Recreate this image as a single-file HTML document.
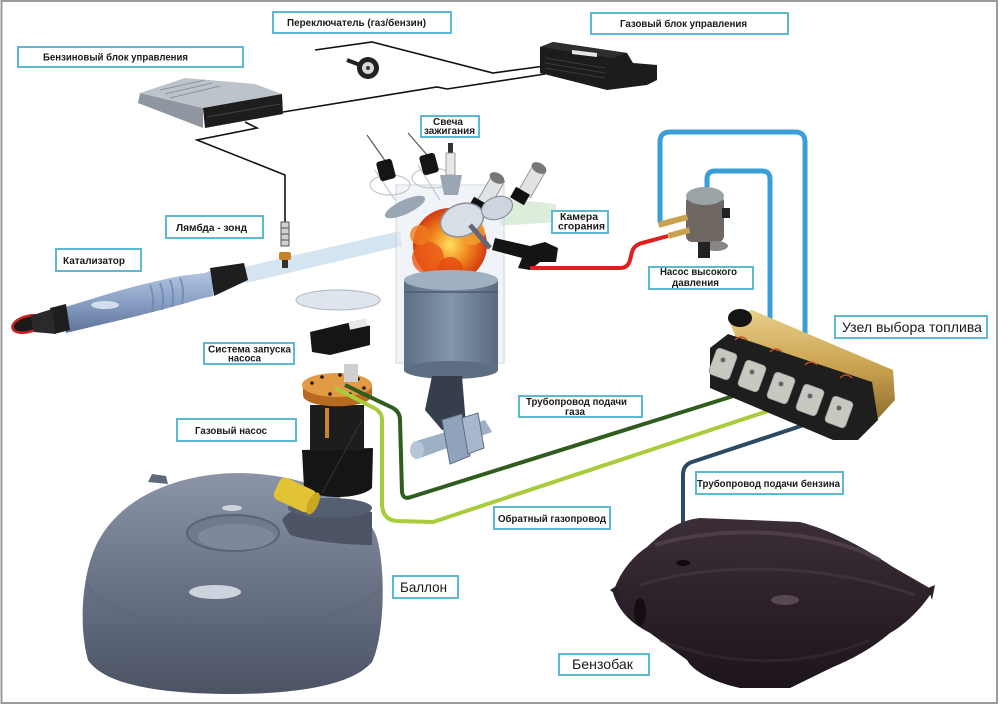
<!DOCTYPE html>
<html><head><meta charset="utf-8">
<style>
html,body{margin:0;padding:0;background:#fff;}
svg{display:block;}
text{font-family:"Liberation Sans",Arial,sans-serif;fill:#1a1a1a;}
.s{font-size:10px;font-weight:bold;}
.b{font-size:14px;}
.box{fill:#fff;stroke:#5db9d1;stroke-width:2;}
</style></head>
<body>
<svg width="1000" height="706" viewBox="0 0 1000 706" xmlns="http://www.w3.org/2000/svg">
<defs>
<linearGradient id="gBal" x1="0" y1="0" x2="0" y2="1">
<stop offset="0" stop-color="#8c95a8"/><stop offset="0.45" stop-color="#6d7689"/><stop offset="1" stop-color="#4b5365"/>
</linearGradient>
<linearGradient id="gTank" x1="0" y1="0" x2="0" y2="1">
<stop offset="0" stop-color="#3b2e39"/><stop offset="1" stop-color="#1d141b"/>
</linearGradient>
<linearGradient id="gCat" x1="0" y1="0" x2="0" y2="1">
<stop offset="0" stop-color="#b5c7e2"/><stop offset="0.5" stop-color="#8aa1c6"/><stop offset="1" stop-color="#5d7296"/>
</linearGradient>
<linearGradient id="gPis" x1="0" y1="0" x2="1" y2="0">
<stop offset="0" stop-color="#5e6f84"/><stop offset="0.5" stop-color="#8395aa"/><stop offset="1" stop-color="#5a6a7e"/>
</linearGradient>
<linearGradient id="gBrass" x1="0" y1="0" x2="0" y2="1">
<stop offset="0" stop-color="#e8cf8a"/><stop offset="0.5" stop-color="#c9a24f"/><stop offset="1" stop-color="#8a6a2a"/>
</linearGradient>
<radialGradient id="gFire" cx="0.5" cy="0.5" r="0.5">
<stop offset="0" stop-color="#ffe060"/><stop offset="0.5" stop-color="#f28a1e"/><stop offset="1" stop-color="#d23a10"/>
</radialGradient>
</defs>

<!-- frame -->
<rect x="1.5" y="1" width="995.5" height="702" fill="none" stroke="#9a9a9a" stroke-width="2"/>

<!-- wires top -->
<polyline points="315,50 372,42 493,73 545,66" fill="none" stroke="#111" stroke-width="1.6"/>
<polyline points="283,112 437,87 447,89 545,74" fill="none" stroke="#111" stroke-width="1.6"/>
<polyline points="245,122 257,128 197,140 285,175 285,222" fill="none" stroke="#111" stroke-width="1.6"/>

<!-- petrol ECU -->
<polygon points="140,93 203,108 203,128 138,103" fill="#8f969f"/>
<polygon points="140,93 185,78 255,84 282,94 203,108" fill="#bcc3cb"/>
<g stroke="#8d949c" stroke-width="1">
<line x1="160" y1="90" x2="205" y2="80"/><line x1="165" y1="94" x2="212" y2="83"/><line x1="170" y1="98" x2="220" y2="86"/>
</g>
<polygon points="203,108 282,94 283,114 205,128" fill="#1d1d1d"/>
<line x1="207" y1="117" x2="280" y2="104" stroke="#444" stroke-width="1"/>

<!-- switch -->
<line x1="347" y1="60" x2="360" y2="65" stroke="#222" stroke-width="4"/>
<circle cx="368" cy="68" r="11" fill="#222"/>
<circle cx="368" cy="68" r="6" fill="#d8d8d8"/>
<circle cx="368" cy="68" r="2" fill="#333"/>

<!-- gas ECU -->
<polygon points="540,47 553,42 627,53 633,63 657,65 657,80 647,85 607,90 540,73" fill="#1c1c1c"/>
<polygon points="540,47 553,42 627,53 612,58" fill="#2e2e2e"/>
<polygon points="572,50 597,53 597,57 572,54" fill="#e6e6e6"/>
<g stroke="#3a3a3a" stroke-width="1"><line x1="545" y1="58" x2="605" y2="68"/><line x1="545" y1="63" x2="605" y2="73"/><line x1="545" y1="68" x2="605" y2="78"/></g>

<!-- blue pipes -->
<path d="M660,222 L660,142 Q660,132 670,132 L795,132 Q805,132 805,142 L805,337" fill="none" stroke="#3a9fd6" stroke-width="5"/>
<path d="M707,194 L707,179 Q707,171 715,171 L762,171 Q770,171 770,179 L770,325" fill="none" stroke="#3a9fd6" stroke-width="5"/>

<!-- exhaust translucent pipe -->
<polygon points="240,268 400,231 402,246 246,283" fill="#d4e4f1"/>
<polygon points="500,198 556,204 556,222 500,226" fill="#d3e8d3" opacity="0.8"/>

<!-- catalyst -->
<path d="M62,308 L95,298 C120,290 150,282 180,276 L205,273 L212,270 L213,296 L200,299 C170,308 130,318 95,326 L66,333 Z" fill="url(#gCat)"/>
<g stroke="#7088b0" stroke-width="2" fill="none" opacity="0.8">
<path d="M150,285 Q155,298 152,312"/><path d="M160,283 Q165,296 162,310"/><path d="M170,280 Q175,293 172,307"/><path d="M180,278 Q185,290 182,304"/>
</g>
<ellipse cx="105" cy="305" rx="14" ry="4" fill="#e6eef8" opacity="0.8"/>
<polygon points="210,268 244,263 248,280 214,296" fill="#1e1e1e"/>
<polygon points="50,308 66,304 70,330 54,334" fill="#1e1e1e"/>
<ellipse cx="28" cy="324" rx="16" ry="8" fill="#1a1a1a" stroke="#d42020" stroke-width="2.5" transform="rotate(-15 28 324)"/>
<polygon points="30,316 52,309 56,334 34,332" fill="#2a2a2a"/>

<!-- lambda probe -->
<rect x="281" y="222" width="8" height="24" fill="#d0d0d0" stroke="#555" stroke-width="1"/>
<line x1="281" y1="228" x2="289" y2="228" stroke="#555"/><line x1="281" y1="234" x2="289" y2="234" stroke="#555"/><line x1="281" y1="240" x2="289" y2="240" stroke="#555"/>
<rect x="279" y="252" width="12" height="8" rx="2" fill="#c8832a"/>
<rect x="282" y="260" width="6" height="8" fill="#333"/>

<!-- engine -->
<rect x="396" y="185" width="108" height="178" fill="#e4ebf2" opacity="0.55" stroke="#c4ccd4" stroke-width="1.5"/>
<g stroke="#c0c8d0" fill="none" stroke-width="1.2">
<path d="M375,170 L395,200 M418,165 L440,200"/>
<ellipse cx="390" cy="185" rx="20" ry="10"/><ellipse cx="432" cy="178" rx="20" ry="10"/>
</g>
<line x1="367" y1="135" x2="386" y2="162" stroke="#555" stroke-width="1.2"/>
<line x1="408" y1="133" x2="428" y2="156" stroke="#555" stroke-width="1.2"/>
<rect x="378" y="160" width="16" height="20" rx="3" fill="#151515" transform="rotate(-15 386 170)"/>
<rect x="421" y="154" width="16" height="20" rx="3" fill="#151515" transform="rotate(-15 429 164)"/>
<rect x="448" y="143" width="5" height="10" fill="#333"/>
<rect x="446" y="153" width="9" height="22" fill="#e8e8e8" stroke="#888" stroke-width="0.8"/>
<polygon points="440,175 462,175 458,195 444,195" fill="#9aa6b2"/>
<rect x="484" y="176" width="14" height="30" fill="#e0e2e4" stroke="#999" transform="rotate(30 491 191)"/>
<ellipse cx="497" cy="178" rx="8" ry="5" fill="#777" transform="rotate(30 497 178)"/>
<rect x="525" y="166" width="14" height="30" fill="#e0e2e4" stroke="#999" transform="rotate(30 532 181)"/>
<ellipse cx="539" cy="168" rx="8" ry="5" fill="#777" transform="rotate(30 539 168)"/>
<rect x="470" y="200" width="16" height="12" fill="#111" transform="rotate(30 478 206)"/>
<rect x="512" y="190" width="16" height="12" fill="#111" transform="rotate(30 520 196)"/>
<ellipse cx="405" cy="207" rx="22" ry="7" fill="#9aa6b4" transform="rotate(-25 405 207)"/>
<!-- fire -->
<circle cx="450" cy="245" r="37" fill="url(#gFire)"/>
<circle cx="428" cy="258" r="16" fill="#e85a16" opacity="0.8"/>
<circle cx="472" cy="232" r="13" fill="#f5a030" opacity="0.8"/>
<circle cx="450" cy="270" r="13" fill="#e24a12" opacity="0.8"/>
<circle cx="420" cy="235" r="10" fill="#f07a20" opacity="0.8"/>
<ellipse cx="462" cy="220" rx="22" ry="16" fill="#d8dee6" stroke="#8893a0" stroke-width="1.5" transform="rotate(-20 462 220)"/>
<ellipse cx="497" cy="208" rx="16" ry="11" fill="#cdd5de" stroke="#8893a0" stroke-width="1.2" transform="rotate(-20 497 208)"/>
<line x1="470" y1="225" x2="490" y2="248" stroke="#667" stroke-width="5"/>
<polygon points="495,238 530,246 545,242 558,248 556,262 540,262 530,270 518,268 522,258 492,250" fill="#141414"/>
<!-- piston -->
<rect x="404" y="280" width="94" height="90" fill="url(#gPis)"/>
<ellipse cx="451" cy="370" rx="47" ry="9" fill="#5e6e82"/>
<ellipse cx="451" cy="280" rx="47" ry="10" fill="#9fb0c2"/>
<line x1="404" y1="292" x2="498" y2="292" stroke="#4c5a6c" stroke-width="1.5"/>
<!-- con rod & crank -->
<polygon points="432,376 462,376 466,425 442,430 425,410" fill="#363e4c"/>
<polygon points="413,442 485,420 492,432 420,458" fill="#9db0c6"/>
<ellipse cx="417" cy="450" rx="7" ry="9" fill="#b7c6d8"/>
<polygon points="442,420 462,414 470,456 450,464" fill="#8fa3ba" stroke="#5d6e84" stroke-width="1"/>
<polygon points="462,418 478,413 484,448 468,454" fill="#a7b8cc" stroke="#5d6e84" stroke-width="1"/>

<!-- red pipe -->
<path d="M530,268 L620,268 Q628,268 630,260 L632,252 Q634,245 642,243 L668,236" fill="none" stroke="#e01e1e" stroke-width="4"/>

<!-- HP pump -->
<rect x="686" y="196" width="38" height="46" rx="6" fill="#6e6762"/>
<ellipse cx="705" cy="196" rx="19" ry="9" fill="#9aa3a6"/>
<rect x="658" y="218" width="30" height="6" fill="#c9a24f" transform="rotate(-15 673 221)"/>
<rect x="668" y="230" width="22" height="6" fill="#c9a24f" transform="rotate(-15 679 233)"/>
<rect x="722" y="208" width="8" height="10" fill="#222"/>
<ellipse cx="716" cy="246" rx="12" ry="5" fill="#8a8580"/>
<rect x="698" y="242" width="12" height="16" fill="#222"/>

<!-- disc & pump start box -->
<ellipse cx="338" cy="300" rx="42" ry="10" fill="#dfe5ec" stroke="#a9b4c0" stroke-width="1"/>
<polygon points="310,332 352,322 370,326 370,345 330,355 312,352" fill="#151515"/>
<rect x="349" y="320" width="18" height="8" fill="#e8e8e8" transform="rotate(-12 358 324)"/>

<!-- balloon -->
<path d="M100,538 C130,487 195,473 240,473 C300,474 358,495 376,535 C386,565 385,635 372,662 C350,688 285,694 232,694 C165,694 105,686 88,660 C78,625 82,568 100,538 Z" fill="url(#gBal)"/>
<path d="M88,585 C110,640 350,640 382,585" fill="none" stroke="#5f687a" stroke-width="2" opacity="0.6"/>
<ellipse cx="233" cy="533" rx="46" ry="18" fill="#707a8d" stroke="#5b6477" stroke-width="2"/>
<ellipse cx="236" cy="537" rx="38" ry="13" fill="#7f889b"/>
<ellipse cx="215" cy="592" rx="26" ry="7" fill="#dfe4ec" opacity="0.85"/>
<ellipse cx="232" cy="508" rx="10" ry="3" fill="#e4e8ef" opacity="0.8"/>
<path d="M148,482 L152,474 L166,476 L168,484 Z" fill="#606a7c"/>
<path d="M282,520 C290,505 330,500 372,512 L372,545 C340,545 305,540 290,535 Z" fill="#4c5465"/>
<ellipse cx="330" cy="508" rx="42" ry="10" fill="#555e70"/>

<!-- gas pump -->
<path d="M302,450 L373,448 L372,488 C360,500 315,500 304,488 Z" fill="#151515"/>
<rect x="310" y="405" width="54" height="45" fill="#1d1d1d"/>
<rect x="325" y="408" width="4" height="30" fill="#c9852a"/>
<path d="M303,385 L372,385 L372,395 C372,410 303,410 303,395 Z" fill="#b86a20"/>
<ellipse cx="337" cy="385" rx="35" ry="12" fill="#e39a45"/>
<g fill="#2a1a0a"><circle cx="312" cy="383" r="1.8"/><circle cx="322" cy="377" r="1.8"/><circle cx="340" cy="375" r="1.8"/><circle cx="358" cy="379" r="1.8"/><circle cx="364" cy="388" r="1.8"/><circle cx="330" cy="394" r="1.8"/><circle cx="350" cy="394" r="1.8"/></g>
<rect x="344" y="364" width="14" height="18" fill="#cfcfcf"/>
<line x1="362" y1="420" x2="322" y2="493" stroke="#333" stroke-width="1"/>
<g transform="rotate(25 295 495)"><rect x="275" y="483" width="40" height="24" rx="6" fill="#e2c334"/><ellipse cx="315" cy="495" rx="5" ry="12" fill="#c9a820"/></g>

<!-- green pipes -->
<path d="M345,385 L393,408 Q400,412 400,420 L402,492 Q403,500 411,497 L743,393" fill="none" stroke="#2f5d1e" stroke-width="4"/>
<path d="M335,388 L374,408 Q382,412 382,420 L382,505 Q383,520 397,521 L433,522 L780,407" fill="none" stroke="#a9cc3c" stroke-width="4"/>

<!-- benzin pipe -->
<path d="M813,422 L692,462 Q683,465 683,475 L683,565" fill="none" stroke="#2d4a63" stroke-width="4"/>

<!-- fuel selector -->
<polygon points="728,318 752,310 893,370 895,400 872,425 740,348" fill="url(#gBrass)"/>
<ellipse cx="740" cy="318" rx="12" ry="9" fill="#151515"/>
<polygon points="710,348 728,334 872,382 878,420 858,440 833,440 710,388" fill="#1e1e1e"/>
<g fill="#c8c8c0" stroke="#888" stroke-width="0.6">
<rect x="712" y="350" width="22" height="28" rx="4" transform="rotate(20 723 364)"/>
<rect x="741" y="362" width="22" height="28" rx="4" transform="rotate(20 752 376)"/>
<rect x="770" y="374" width="22" height="28" rx="4" transform="rotate(20 781 388)"/>
<rect x="799" y="386" width="22" height="28" rx="4" transform="rotate(20 810 400)"/>
<rect x="828" y="398" width="22" height="28" rx="4" transform="rotate(20 839 412)"/>
</g>
<g fill="#666"><circle cx="723" cy="360" r="2.5"/><circle cx="752" cy="372" r="2.5"/><circle cx="781" cy="384" r="2.5"/><circle cx="810" cy="396" r="2.5"/><circle cx="839" cy="408" r="2.5"/></g>
<g stroke="#c8501a" stroke-width="1.5" fill="none"><path d="M735,340 q6,-6 12,0"/><path d="M770,352 q6,-6 12,0"/><path d="M805,365 q6,-6 12,0"/><path d="M840,378 q6,-6 12,0"/></g>

<!-- petrol tank -->
<path d="M700,518 L800,522 C830,530 860,545 893,567 L933,590 C925,605 905,625 890,633 C870,650 850,660 833,667 L790,688 L740,688 C712,682 692,670 687,660 L650,633 C635,625 620,615 613,593 C620,570 635,555 647,547 C665,530 680,520 700,518 Z" fill="url(#gTank)"/>
<path d="M655,545 C720,525 820,528 880,560" fill="none" stroke="#56464f" stroke-width="4" opacity="0.7"/>
<path d="M640,585 C720,560 830,565 915,595" fill="none" stroke="#4a3b45" stroke-width="3" opacity="0.6"/>
<path d="M660,640 C720,665 800,670 870,640" fill="none" stroke="#3a2d36" stroke-width="3" opacity="0.6"/>
<ellipse cx="785" cy="600" rx="14" ry="5" fill="#6a5a64" opacity="0.7"/>
<ellipse cx="640" cy="612" rx="6" ry="14" fill="#140e12"/>
<ellipse cx="683" cy="563" rx="7" ry="3" fill="#0f0a0d"/>
<polygon points="610,590 618,585 620,598" fill="#2a1f27"/>
<polygon points="928,588 935,585 932,600" fill="#2a1f27"/>

<!-- labels -->
<rect class="box" x="273" y="12" width="178" height="21"/>
<text class="s" x="287" y="26" textLength="139" lengthAdjust="spacingAndGlyphs">Переключатель (газ/бензин)</text>

<rect class="box" x="18" y="47" width="225" height="20"/>
<text class="s" x="43" y="60.5" textLength="145" lengthAdjust="spacingAndGlyphs">Бензиновый блок управления</text>

<rect class="box" x="591" y="13" width="197" height="21"/>
<text class="s" x="620" y="27" textLength="127" lengthAdjust="spacingAndGlyphs">Газовый блок управления</text>

<rect class="box" x="421" y="116" width="58" height="21"/>
<text class="s" x="433" y="125" textLength="30" lengthAdjust="spacingAndGlyphs">Свеча</text>
<text class="s" x="424" y="134" textLength="51" lengthAdjust="spacingAndGlyphs">зажигания</text>

<rect class="box" x="166" y="216" width="97" height="22"/>
<text class="s" x="176" y="231" textLength="71" lengthAdjust="spacingAndGlyphs">Лямбда - зонд</text>

<rect class="box" x="56" y="249" width="85" height="22"/>
<text class="s" x="63" y="264" textLength="62" lengthAdjust="spacingAndGlyphs">Катализатор</text>

<rect class="box" x="552" y="211" width="56" height="22"/>
<text class="s" x="560" y="220" textLength="38" lengthAdjust="spacingAndGlyphs">Камера</text>
<text class="s" x="558" y="229.5" textLength="47" lengthAdjust="spacingAndGlyphs">сгорания</text>

<rect class="box" x="649" y="267" width="104" height="22"/>
<text class="s" x="660" y="275" textLength="77" lengthAdjust="spacingAndGlyphs">Насос высокого</text>
<text class="s" x="672" y="286" textLength="47" lengthAdjust="spacingAndGlyphs">давления</text>

<rect class="box" x="835" y="316" width="152" height="22"/>
<text class="b" x="842" y="332" textLength="140" lengthAdjust="spacingAndGlyphs">Узел выбора топлива</text>

<rect class="box" x="204" y="343" width="90" height="21"/>
<text class="s" x="208" y="352.5" textLength="83" lengthAdjust="spacingAndGlyphs">Система запуска</text>
<text class="s" x="228" y="361.5" textLength="33" lengthAdjust="spacingAndGlyphs">насоса</text>

<rect class="box" x="177" y="419" width="119" height="22"/>
<text class="s" x="195" y="434" textLength="72" lengthAdjust="spacingAndGlyphs">Газовый насос</text>

<rect class="box" x="393" y="576" width="65" height="22"/>
<text class="b" x="400" y="592" textLength="47" lengthAdjust="spacingAndGlyphs">Баллон</text>

<rect class="box" x="519" y="396" width="123" height="21"/>
<text class="s" x="526" y="405" textLength="101" lengthAdjust="spacingAndGlyphs">Трубопровод подачи</text>
<text class="s" x="565" y="415" textLength="20" lengthAdjust="spacingAndGlyphs">газа</text>

<rect class="box" x="494" y="507" width="116" height="22"/>
<text class="s" x="498" y="522" textLength="108" lengthAdjust="spacingAndGlyphs">Обратный газопровод</text>

<rect class="box" x="696" y="472" width="147" height="22"/>
<text class="s" x="697" y="487" textLength="143" lengthAdjust="spacingAndGlyphs">Трубопровод подачи бензина</text>

<rect class="box" x="559" y="654" width="90" height="21"/>
<text class="b" x="572" y="669" textLength="61" lengthAdjust="spacingAndGlyphs">Бензобак</text>
</svg>
</body></html>
